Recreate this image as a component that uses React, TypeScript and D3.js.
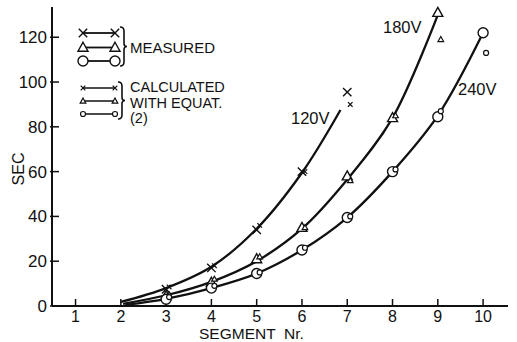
import * as d3 from 'd3'

// measured / calculated points, segment numbers 3..n
const segs120 = [3, 4, 5, 6, 7]
const measured120 = [7.5, 17, 34, 60, 95.5]
const calc120 = [8.5, 18, 36, 60, 90]

const segs180 = [3, 4, 5, 6, 7, 8, 9]
const measured180 = [4.5, 10.5, 21, 35, 58, 84, 131]
const calc180 = [5, 12, 22, 35, 56, 85, 119]

const segs240 = [3, 4, 5, 6, 7, 8, 9, 10]
const measured240 = [3, 8, 14.5, 25, 39.5, 60, 84.5, 122]
const calc240 = [4, 9, 15, 26, 40, 61, 87, 113]

// drawn curves
const curveX120 = [2, 3, 4, 5, 6, 6.85]
const curveY120 = [1.8, 8, 17.5, 34.5, 59.5, 87.5]
const curveX180 = [2.05, 3, 4, 5, 6, 7, 8, 9]
const curveY180 = [1, 4.8, 10.8, 20, 34.5, 56.5, 84, 130]
const curveX240 = [2.1, 3, 4, 5, 6, 7, 8, 9, 10]
const curveY240 = [0.5, 3.2, 8, 14.5, 25, 39.5, 60, 85, 122]

const xTicks = [1, 2, 3, 4, 5, 6, 7, 8, 9, 10]
const yTicks = [0, 20, 40, 60, 80, 100, 120]

const W = 517
const H = 342
const FONT = '"Liberation Sans", Arial, sans-serif'

const x = d3.scaleLinear().domain([0.48, 10.55]).range([52, 508])
const y = d3.scaleLinear().domain([0, 133.5]).range([306, 7])

type Shape = 'x' | 'tri' | 'circ'

function Marker({ cx, cy, shape, big }: { cx: number; cy: number; shape: Shape; big: boolean }) {
  const s = big ? 4.2 : 2.3
  const sw = big ? 1.4 : 1.2
  if (shape === 'x')
    return <path d={`M${cx - s},${cy - s}L${cx + s},${cy + s}M${cx - s},${cy + s}L${cx + s},${cy - s}`} stroke="#111" strokeWidth={sw} fill="none" />
  if (shape === 'tri') {
    const t = big ? 5 : 2.8
    return <path d={`M${cx},${cy - t * 1.05}L${cx + t},${cy + t * 0.75}L${cx - t},${cy + t * 0.75}Z`} stroke="#111" strokeWidth={sw} fill="white" />
  }
  return <circle cx={cx} cy={cy} r={big ? 5 : 2.5} stroke="#111" strokeWidth={sw} fill="white" />
}

function brace(bx: number, y0: number, y1: number) {
  const m = (y0 + y1) / 2
  return `M${bx},${y0}Q${bx + 4},${y0} ${bx + 4},${y0 + 4}L${bx + 4},${m - 3}Q${bx + 4},${m} ${bx + 7},${m}Q${bx + 4},${m} ${bx + 4},${m + 3}L${bx + 4},${y1 - 4}Q${bx + 4},${y1} ${bx},${y1}`
}

export default function App() {
  const line = d3.line<number>().curve(d3.curveCatmullRom.alpha(0.5))
  const mk = (xs: number[], ys: number[]) => line.x((_, i) => x(xs[i])).y((_, i) => y(ys[i]))(xs) || ''

  const curves = [mk(curveX120, curveY120), mk(curveX180, curveY180), mk(curveX240, curveY240)]
  const series: { segs: number[]; meas: number[]; calc: number[]; shape: Shape }[] = [
    { segs: segs120, meas: measured120, calc: calc120, shape: 'x' },
    { segs: segs180, meas: measured180, calc: calc180, shape: 'tri' },
    { segs: segs240, meas: measured240, calc: calc240, shape: 'circ' },
  ]
  const shapes: Shape[] = ['x', 'tri', 'circ']
  const legMeasY = [33, 47.5, 61]
  const legCalcY = [88, 101, 114]

  return (
    <svg width={W} height={H} style={{ position: 'absolute', left: 0, top: 0, background: 'white' }} fontFamily={FONT}>
      {/* axes */}
      <line x1={x.range()[0]} x2={x.range()[1]} y1={y(0)} y2={y(0)} stroke="#111" strokeWidth={2} />
      <line x1={x.range()[0]} x2={x.range()[0]} y1={y(0)} y2={y.range()[1]} stroke="#111" strokeWidth={2} />
      {xTicks.map(t => (
        <g key={'x' + t}>
          <line x1={x(t)} x2={x(t)} y1={y(0)} y2={y(0) - 7} stroke="#111" strokeWidth={1.5} />
          <text x={x(t)} y={322} textAnchor="middle" fontSize={16} fill="#111">{t}</text>
        </g>
      ))}
      {yTicks.map(t => (
        <g key={'y' + t}>
          <line x1={x.range()[0] - 2} x2={x.range()[0] + 7} y1={y(t)} y2={y(t)} stroke="#111" strokeWidth={1.5} />
          <text x={47} y={y(t) + 6} textAnchor="end" fontSize={17} fill="#111">{t}</text>
        </g>
      ))}
      <text x={199} y={339} fontSize={15.5} fill="#111" style={{ whiteSpace: 'pre' }}>{'SEGMENT  Nr.'}</text>
      <text transform="translate(24,169) rotate(-90)" textAnchor="middle" fontSize={16} fill="#111">SEC</text>

      {/* curves */}
      {curves.map((d, i) => <path key={'c' + i} d={d} fill="none" stroke="#111" strokeWidth={2.3} />)}

      {/* points */}
      {series.map((s, si) => (
        <g key={'s' + si}>
          {s.segs.map((g, i) => <Marker key={'m' + i} cx={x(g)} cy={y(s.meas[i])} shape={s.shape} big />)}
          {s.segs.map((g, i) => <Marker key={'k' + i} cx={x(g) + 3} cy={y(s.calc[i])} shape={s.shape} big={false} />)}
        </g>
      ))}

      {/* curve labels */}
      <text x={291} y={124} fontSize={16.5} fill="#111">120V</text>
      <text x={383} y={33} fontSize={16.5} fill="#111">180V</text>
      <text x={458} y={95} fontSize={16.5} fill="#111">240V</text>

      {/* legend */}
      {shapes.map((sh, i) => (
        <g key={'lm' + i}>
          <line x1={83} x2={115} y1={legMeasY[i]} y2={legMeasY[i]} stroke="#111" strokeWidth={1.8} />
          <Marker cx={83} cy={legMeasY[i]} shape={sh} big />
          <Marker cx={115} cy={legMeasY[i]} shape={sh} big />
        </g>
      ))}
      {shapes.map((sh, i) => (
        <g key={'lc' + i}>
          <line x1={83} x2={115} y1={legCalcY[i]} y2={legCalcY[i]} stroke="#111" strokeWidth={1.5} />
          <Marker cx={83} cy={legCalcY[i]} shape={sh} big={false} />
          <Marker cx={115} cy={legCalcY[i]} shape={sh} big={false} />
        </g>
      ))}
      <path d={brace(120, 27, 66)} fill="none" stroke="#111" strokeWidth={1.6} />
      <path d={brace(118, 82, 119)} fill="none" stroke="#111" strokeWidth={1.6} />
      <text x={130} y={53} fontSize={15} fill="#111">MEASURED</text>
      <text x={130} y={92} fontSize={14.5} fill="#111">CALCULATED</text>
      <text x={130} y={107.5} fontSize={14.5} fill="#111">WITH  EQUAT.</text>
      <text x={130} y={123} fontSize={14.5} fill="#111">(2)</text>
    </svg>
  )
}
